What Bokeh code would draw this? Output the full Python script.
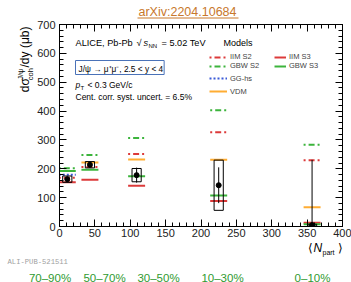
import math
from bokeh.plotting import figure
from bokeh.models import (ColumnDataSource, Label, Legend, LegendItem, LinearAxis,
                          SingleIntervalTicker, Range1d)
from bokeh.layouts import column, row
from bokeh.core.properties import value
from bokeh.embed import file_html
from bokeh.resources import INLINE

# ---------------- data ----------------
centralities = ["70–90%", "50–70%", "30–50%", "10–30%", "0–10%"]
npart = [11, 43, 109, 225, 357]
dsigma = [164, 214, 178, 143, 5]
stat_err = [9, 10, 26, 62, 226]
syst_err = [11, 11, 23, 87, 3]

iim_s2 = [169, 206, 251, 327, 230]
iim_s3 = [153, 162, 141, 88, 13]
gbw_s2 = [202, 248, 307, 403, 283]
gbw_s3 = [192, 197, 174, 107, 8]
gg_hs = [179, float("nan"), float("nan"), float("nan"), float("nan")]
vdm = [float("nan"), 222, 232, 231, 67]

# ---------------- style constants ----------------
FONT = "Liberation Sans"
RED = "#dc3a3a"
GREEN = "#3cb43c"
BLUE = "#3a5ad8"
ORANGE = "#ffad33"
LINK = "#c8782c"
CENT_GREEN = "#2f9a2f"
HALF_MODEL = 12
HALF_BOX = 6.5

TOTAL_W, TOTAL_H = 351, 282
TOP_H = 20
LEFT_W = 34
BOTTOM_Y = 241
MAIN_W = TOTAL_W - LEFT_W
MAIN_H = BOTTOM_Y - TOP_H
BOTTOM_H = TOTAL_H - BOTTOM_Y


def aux(w, h):
    f = figure(width=w, height=h, x_range=Range1d(0, w), y_range=Range1d(h, 0),
               output_backend="svg", toolbar_location=None, min_border=0,
               x_axis_type=None, y_axis_type=None)
    f.outline_line_color = None
    f.background_fill_color = "white"
    f.border_fill_color = "white"
    return f


# ---------------- main plot ----------------
p = figure(width=MAIN_W, height=MAIN_H, output_backend="svg", toolbar_location=None,
           x_range=Range1d(0, 400), y_range=Range1d(0, 700),
           min_border_left=23, min_border_right=9, min_border_top=4, min_border_bottom=15)
p.background_fill_color = "white"
p.border_fill_color = "white"
p.outline_line_color = "black"
p.outline_line_width = 1
p.xgrid.visible = False
p.ygrid.visible = False


def style_axis(ax, ticker, labels=True):
    ax.ticker = ticker
    ax.major_tick_in = 7
    ax.major_tick_out = 0
    ax.minor_tick_in = 4
    ax.minor_tick_out = 0
    ax.axis_line_color = "black"
    ax.major_tick_line_color = "black"
    ax.minor_tick_line_color = "black"
    ax.major_label_text_font = FONT
    ax.major_label_text_font_size = "11px"
    ax.major_label_text_color = "#222222"
    if not labels:
        ax.major_label_text_font_size = "0px"
        ax.major_label_text_color = None
        ax.major_label_standoff = 0
        ax.axis_label_standoff = 0


style_axis(p.xaxis[0], SingleIntervalTicker(interval=50, num_minor_ticks=5))
style_axis(p.yaxis[0], SingleIntervalTicker(interval=100, num_minor_ticks=5))
p.xaxis[0].major_label_standoff = 2
p.yaxis[0].major_label_standoff = 4
top_ax = LinearAxis()
right_ax = LinearAxis()
style_axis(top_ax, SingleIntervalTicker(interval=50, num_minor_ticks=5), labels=False)
style_axis(right_ax, SingleIntervalTicker(interval=100, num_minor_ticks=5), labels=False)
p.add_layout(top_ax, "above")
p.add_layout(right_ax, "right")

# ---------------- model lines ----------------
def model_src(vals):
    return ColumnDataSource(dict(x0=[n - HALF_MODEL for n in npart],
                                 x1=[n + HALF_MODEL for n in npart], y=vals))


r_iim2 = p.segment("x0", "y", "x1", "y", source=model_src(iim_s2), line_color=RED,
                   line_width=2, line_dash="2 3 6 3")
r_gbw2 = p.segment("x0", "y", "x1", "y", source=model_src(gbw_s2), line_color=GREEN,
                   line_width=2, line_dash="2 3 6 3")
r_iim3 = p.segment("x0", "y", "x1", "y", source=model_src(iim_s3), line_color=RED, line_width=2)
r_gbw3 = p.segment("x0", "y", "x1", "y", source=model_src(gbw_s3), line_color=GREEN, line_width=2)
r_gg = p.segment("x0", "y", "x1", "y", source=model_src(gg_hs), line_color=BLUE,
                 line_width=2, line_dash="2 2")
r_vdm = p.segment("x0", "y", "x1", "y", source=model_src(vdm), line_color=ORANGE, line_width=2)

# ---------------- data points ----------------
dsrc = ColumnDataSource(dict(
    x=npart, y=dsigma,
    lo=[max(0, v - e) for v, e in zip(dsigma, stat_err)],
    hi=[v + e for v, e in zip(dsigma, stat_err)],
    blo=[v - s for v, s in zip(dsigma, syst_err)],
    bhi=[v + s for v, s in zip(dsigma, syst_err)],
    bl=[n - HALF_BOX for n in npart], br=[n + HALF_BOX for n in npart]))
p.quad(left="bl", right="br", bottom="blo", top="bhi", source=dsrc, fill_color=None,
       line_color="black", line_width=1)
p.segment("x", "lo", "x", "hi", source=dsrc, line_color="black", line_width=1)
p.scatter("x", "y", source=dsrc, size=5, color="black")

# page coords -> frame screen coords (frame spans page x 57..342, y 24..226)
FX0, FY0 = 57, 226


def sx(px):
    return px - FX0


def sy(py):
    return FY0 - py


def mk_legend(items, left, bottom, gw):
    lg = Legend(items=items, location=(sx(left), sy(bottom)), orientation="vertical",
                glyph_width=gw, glyph_height=8, label_height=8, label_width=10,
                label_text_font=FONT, label_text_font_size="7.5px", label_standoff=3,
                spacing=0, padding=0, margin=0, border_line_color=None,
                background_fill_alpha=0)
    p.add_layout(lg)


mk_legend([LegendItem(label="IIM S2", renderers=[r_iim2]),
           LegendItem(label="GBW S2", renderers=[r_gbw2])], 207, 70, 18)
mk_legend([LegendItem(label="IIM S3", renderers=[r_iim3]),
           LegendItem(label="GBW S3", renderers=[r_gbw3])], 272, 70, 12)
mk_legend([LegendItem(label="GG-hs", renderers=[r_gg])], 207, 82.5, 18)
mk_legend([LegendItem(label="VDM", renderers=[r_vdm])], 207, 95.5, 18)


def lab(text, px, py, size, color="black", align="left", style="normal", **kw):
    l = Label(x=sx(px), y=sy(py), x_units="screen", y_units="screen", text=text,
              text_font=FONT, text_font_size=f"{size}px", text_color=color,
              text_align=align, text_baseline="middle", text_font_style=style, **kw)
    p.add_layout(l)
    return l


lab("Models", 221, 42, 9)
lab("ALICE, Pb-Pb", 73, 42, 9.2)
lab("√", 134, 42, 9.2)
lab("s", 141, 42, 9.2, style="italic")
lab("NN", 146, 45, 6)
lab("= 5.02 TeV", 159, 42, 9.2)
lab("J/ψ → μ⁺μ⁻, 2.5 < y < 4", 73, 67, 8.3, border_line_color="#4a72b8",
    border_line_width=1, padding=(3, 1, 3, 1))
lab("p", 73, 84, 8.5, style="italic")
lab("T", 78, 87, 6)
lab("< 0.3 GeV/c", 85, 84, 8.5)
lab("Cent. corr. syst. uncert. = 6.5%", 73, 96, 8.5)

# ---------------- top strip (link) ----------------
top = aux(TOTAL_W, TOP_H)
top.text(x=[187], y=[11], text=["arXiv:2204.10684"], text_font=value(FONT),
         text_font_size="12.5px", text_color=LINK, text_align="center",
         text_baseline="middle")
top.segment(x0=[137], y0=[17.5], x1=[238], y1=[17.5], line_color=LINK, line_width=1)

# ---------------- left strip (y title) ----------------
left = aux(LEFT_W, MAIN_H)
oy = TOP_H
left.text(x=[24, 24], y=[94 - oy, 67 - oy], text=["dσ", "/dy (μb)"], angle=math.pi / 2,
          text_font=value(FONT), text_font_size="12px", text_align="left",
          text_baseline="middle", text_color="black")
left.text(x=[19.5], y=[80.5 - oy], text=["J/ψ"], angle=math.pi / 2,
          text_font=value(FONT), text_font_size="7.5px", text_align="left",
          text_baseline="middle", text_color="black")
left.text(x=[29.5], y=[81 - oy], text=["coh"], angle=math.pi / 2,
          text_font=value(FONT), text_font_size="7.5px", text_align="left",
          text_baseline="middle", text_color="black")

# ---------------- bottom strip ----------------
bot = aux(TOTAL_W, BOTTOM_H)
by = BOTTOM_Y
bot.text(x=[307], y=[247.5 - by], text=["⟨"], text_font=value(FONT), text_font_size="12px",
         text_baseline="middle")
bot.text(x=[313], y=[247.5 - by], text=["N"], text_font=value(FONT), text_font_size="12px",
         text_font_style="italic", text_baseline="middle")
bot.text(x=[322], y=[251.5 - by], text=["part"], text_font=value(FONT), text_font_size="7px",
         text_baseline="middle")
bot.text(x=[337], y=[247.5 - by], text=["⟩"], text_font=value(FONT), text_font_size="12px",
         text_baseline="middle")
bot.text(x=[7], y=[261.5 - by], text=["ALI-PUB-521511"], text_font=value("Liberation Mono"),
         text_font_size="7.2px", text_color="#a0a0a0", text_baseline="middle")
cent_x = [49.5, 104, 158, 222, 312]
bot.text(x=cent_x, y=[277 - by] * len(cent_x), text=centralities, text_font=value(FONT),
         text_font_size="11.5px", text_color=CENT_GREEN, text_align="center",
         text_baseline="middle")

layout = column(top, row(left, p, spacing=0), bot, spacing=0)
open("out.html", "w").write(file_html(layout, INLINE))
